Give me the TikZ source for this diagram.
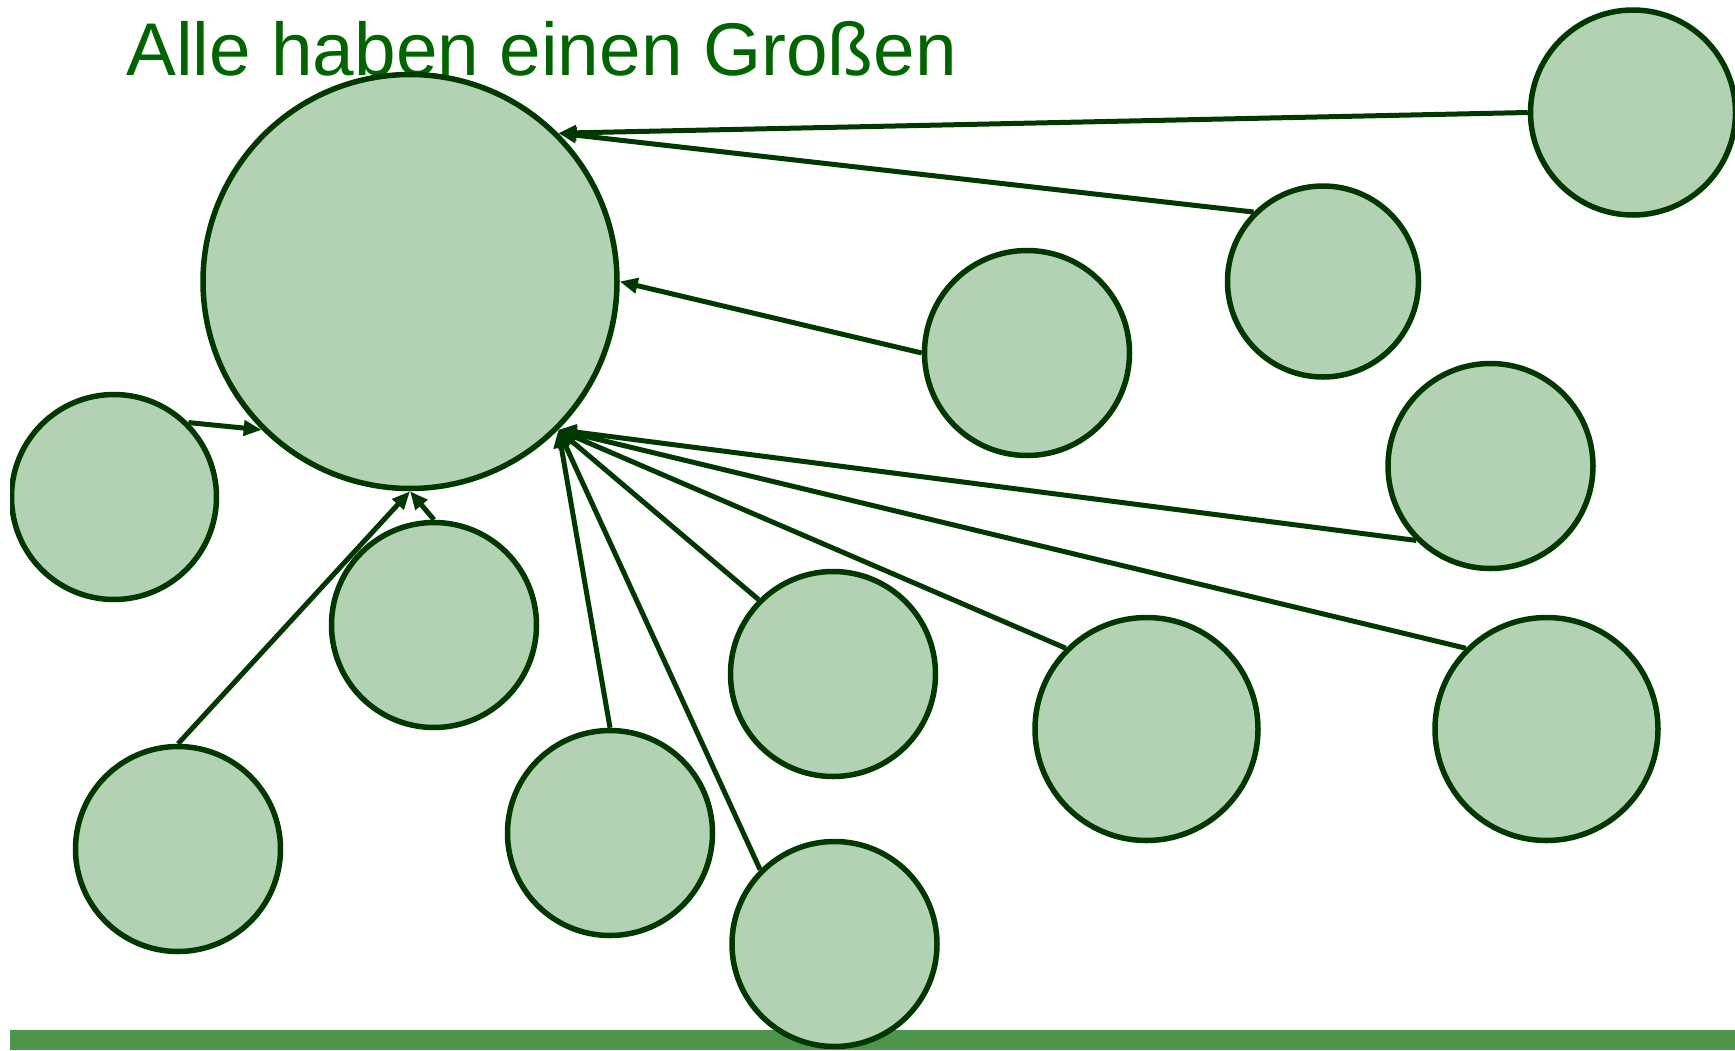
\documentclass[tikz,border=0pt]{standalone}
\usepackage{fontspec}
\setmainfont{Liberation Sans}
\usetikzlibrary{arrows.meta}
\definecolor{ballfill}{RGB}{179,209,179}
\definecolor{balldraw}{RGB}{0,56,0}
\definecolor{titlecol}{RGB}{0,100,0}
\definecolor{barcol}{RGB}{77,148,77}
\tikzset{
  ball/.style={circle, draw=balldraw, fill=ballfill, line width=5.5pt, inner sep=0pt},
  conn/.style={draw=balldraw, line width=5pt, -{Triangle[length=18pt,width=15pt]}},
}
\begin{document}
\begin{tikzpicture}[x=1pt,y=-1pt]
\useasboundingbox (0,0) rectangle (1735,1050);
\clip (10,0) rectangle (1735,1050);
\fill[barcol] (10,1030) rectangle (1735,1050);
\node[anchor=base west, inner sep=0pt, text=titlecol, font=\fontsize{74.7}{80}\selectfont] (title) at (126,75) {Alle haben einen Großen};
\node[ball, minimum size=414pt] (big) at (410,281.5) {};
\node[ball, minimum size=205pt] (c1) at (1633,112.5) {};
\node[ball, minimum size=191pt] (c2) at (1323,281.5) {};
\node[ball, minimum size=205pt] (c3) at (1027,353) {};
\node[ball, minimum size=205pt] (c4) at (1490.5,466) {};
\node[ball, minimum size=205pt] (c5) at (114,497) {};
\node[ball, minimum size=205pt] (c6) at (434,625) {};
\node[ball, minimum size=205pt] (c7) at (833,674) {};
\node[ball, minimum size=223pt] (c8) at (1146.5,729) {};
\node[ball, minimum size=223pt] (c9) at (1546.5,729) {};
\node[ball, minimum size=205pt] (c10) at (178,849) {};
\node[ball, minimum size=205pt] (c11) at (610,833) {};
\node[ball, minimum size=205pt] (c12) at (834.5,944) {};
\draw[conn] (c1.west) -- (big.45);
\draw[conn] (c2.135) -- (big.45);
\draw[conn] (c3.west) -- (big.east);
\draw[conn] (c4.-135) -- (big.-45);
\draw[conn] (c5.45) -- (big.-135);
\draw[conn] (c6.north) -- (big.south);
\draw[conn] (c10.north) -- (big.south);
\draw[conn] (c11.north) -- (big.-45);
\draw[conn] (c12.135) -- (big.-45);
\draw[conn] (c7.135) -- (big.-45);
\draw[conn] (c8.135) -- (big.-45);
\draw[conn] (c9.135) -- (big.-45);
\end{tikzpicture}
\end{document}
